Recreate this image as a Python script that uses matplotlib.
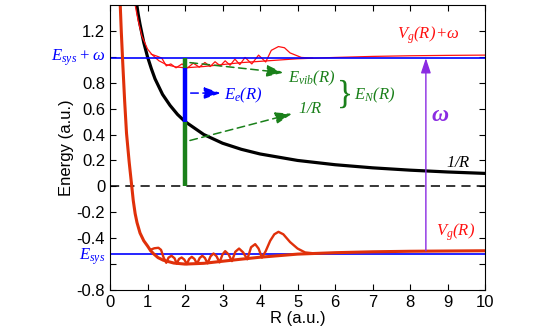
import matplotlib
matplotlib.use("Agg")
from matplotlib import pyplot as plt

plt.rcParams['font.family'] = ['Liberation Sans', 'DejaVu Sans']
plt.rcParams['mathtext.fontset'] = 'custom'
plt.rcParams['mathtext.it'] = 'Liberation Serif:italic'
plt.rcParams['mathtext.rm'] = 'Liberation Serif:italic'
plt.rcParams['mathtext.bf'] = 'Liberation Serif:bold:italic'

# values (R in a.u., energy in a.u.)
# ground potential Vg(R), smooth part
r_vg = [0.27, 0.30, 0.34, 0.39, 0.44, 0.51, 0.58, 0.62, 0.67, 0.72, 0.80, 0.90, 1.00, 1.08, 1.16,
        1.28, 1.42, 1.70, 2.00, 2.50, 3.00, 3.50, 4.00, 4.50, 5.00, 6.00, 7.00, 8.00, 9.00, 10.0]
e_vg = [1.42, 1.20, 0.95, 0.66, 0.41, 0.19, 0.00, -0.11, -0.21, -0.28, -0.36, -0.42, -0.46, -0.495,
        -0.52, -0.55, -0.57, -0.592, -0.60, -0.594, -0.578, -0.562, -0.547, -0.535, -0.523, -0.512,
        -0.505, -0.501, -0.499, -0.497]
# ground potential, oscillating part
r_vg_osc = [1.07, 1.18, 1.29, 1.36, 1.43, 1.50,
            1.56, 1.64, 1.72, 1.78,
            1.84, 1.91, 1.98, 2.05,
            2.11, 2.18, 2.25, 2.32,
            2.39, 2.46, 2.53, 2.60,
            2.68, 2.76, 2.84, 2.92,
            3.00, 3.07, 3.16, 3.25,
            3.34, 3.44, 3.55, 3.66,
            3.76, 3.87, 3.96, 4.05,
            4.15, 4.27, 4.38, 4.49, 4.62, 4.80, 5.00, 5.20, 5.40]
e_vg_osc = [-0.49, -0.478, -0.474, -0.49, -0.55, -0.59,
            -0.55, -0.536, -0.555, -0.597,
            -0.56, -0.549, -0.565, -0.60,
            -0.56, -0.544, -0.56, -0.598,
            -0.553, -0.536, -0.553, -0.594,
            -0.54, -0.518, -0.54, -0.587,
            -0.525, -0.50, -0.525, -0.577,
            -0.505, -0.48, -0.51, -0.563,
            -0.47, -0.446, -0.48, -0.55,
            -0.50, -0.42, -0.37, -0.351, -0.37, -0.43, -0.48, -0.51, -0.516]
# Vg(R)+w, smooth part
r_vw = [0.67, 0.75, 0.85, 1.00, 1.11, 1.30, 1.50, 1.75, 2.00, 2.50, 3.00, 3.50, 4.00, 4.50,
        5.00, 6.00, 7.00, 8.00, 9.00, 10.0]
e_vw = [1.40, 1.28, 1.16, 1.06, 1.02, 0.97, 0.94, 0.922, 0.915, 0.925, 0.94, 0.955, 0.965, 0.975,
        0.985, 0.995, 1.003, 1.008, 1.011, 1.013]
# Vg(R)+w, oscillating part
r_vw_osc = [1.10, 1.25, 1.38, 1.50, 1.62, 1.76, 1.92, 2.07, 2.22, 2.38, 2.53, 2.67, 2.80, 2.94,
            3.07, 3.20, 3.33, 3.46, 3.60, 3.78, 3.96, 4.15, 4.30, 4.49, 4.65, 4.80, 5.10, 5.40]
e_vw_osc = [1.02, 1.005, 0.99, 0.93, 0.945, 0.915, 0.945, 0.915, 0.951, 0.92, 0.956, 0.925, 0.962,
            0.93, 0.969, 0.935, 0.982, 0.94, 0.995, 0.945, 1.013, 0.96, 1.05, 1.079, 1.07, 1.03,
            0.995, 0.99]
# Coulomb repulsion 1/R
r_inv = [0.70, 0.75, 0.80, 0.85, 0.90, 1.0, 1.1, 1.2, 1.4, 1.6, 1.8, 2.0, 2.5, 3.0, 3.5, 4.0, 5.0,
         6.0, 7.0, 8.0, 9.0, 10.0]
e_inv = [1.43, 1.33, 1.25, 1.18, 1.11, 1.0, 0.91, 0.83, 0.71, 0.625, 0.555, 0.50, 0.40, 0.333,
         0.286, 0.25, 0.20, 0.167, 0.143, 0.125, 0.111, 0.10]

e_sys = -0.525
e_sys_w = 0.99
r_bar = 2.0
bar_levels = [0.0, 0.50, 0.915, 0.99]   # 1/R | E_e | E_vib
r_omega = 8.42
vg_at_omega = -0.497

red = '#e0300a'
green = '#1a801a'
blue = '#0000ff'
purple = '#8a2be2'

fig = plt.figure(figsize=(5.57, 3.32), dpi=100)
ax = fig.add_axes([0.1975, 0.1265, 0.6735, 0.8585])

ax.axhline(0, color='black', lw=1.1, ls=(0, (6, 4)))
ax.plot(r_inv, e_inv, color='black', lw=2.3)
ax.plot(r_vw, e_vw, color='#ff1010', lw=0.9)
ax.plot(r_vw_osc, e_vw_osc, color='#ff1010', lw=0.9)
ax.axhline(e_sys_w, color=blue, lw=1.2)
ax.axhline(e_sys, color=blue, lw=1.2)
ax.plot(r_vg, e_vg, color=red, lw=2.2)
ax.plot(r_vg_osc, e_vg_osc, color=red, lw=1.7)

# stacked bar at R=2
ax.plot([r_bar, r_bar], bar_levels[0:2], color=green, lw=3.2, solid_capstyle='butt')
ax.plot([r_bar, r_bar], bar_levels[1:3], color=blue, lw=3.2, solid_capstyle='butt')
ax.plot([r_bar, r_bar], bar_levels[2:4], color=green, lw=3.2, solid_capstyle='butt')

# photon arrow
ax.annotate('', xy=(r_omega, e_sys_w), xytext=(r_omega, vg_at_omega),
            arrowprops=dict(arrowstyle='-|>,head_length=0.9,head_width=0.3', color=purple, lw=1.0,
                            shrinkA=0, shrinkB=0))
ax.text(8.55, 0.55, r'$\mathbf{\omega}$', color=purple, fontsize=17, ha='left', va='center')

# pointer arrows
def dash_arrow(p0, p1, col):
    ax.annotate('', xy=p1, xytext=p0,
                arrowprops=dict(arrowstyle='-|>,head_length=1.0,head_width=0.35', color=col, lw=1.1,
                                ls=(0, (5, 3)), shrinkA=0, shrinkB=0))

dash_arrow((2.15, 0.72), (2.95, 0.72), blue)
dash_arrow((2.13, 0.955), (4.62, 0.877), green)
dash_arrow((2.13, 0.354), (4.85, 0.56), green)

ax.text(3.05, 0.70, r'$E_e(R)$', color=blue, fontsize=12, va='center')
ax.text(4.75, 0.83, r'$E_{vib}(R)$', color=green, fontsize=12, va='center')
ax.text(5.0, 0.60, r'$1/R$', color=green, fontsize=12, va='center')
ax.text(6.05, 0.71, '}', color=green, fontsize=24, va='center', family='Liberation Serif')
ax.text(6.5, 0.70, r'$E_N(R)$', color=green, fontsize=12, va='center')

ax.text(7.65, 1.17, r'$V_g(R)\!+\!\omega$', color='#ff1010', fontsize=12, va='center')
ax.text(8.7, -0.35, r'$V_g(R)$', color='#ff1010', fontsize=12, va='center')
ax.text(8.95, 0.185, r'$1/R$', color='black', fontsize=12, va='center')

# level labels on the left
trans = ax.get_yaxis_transform()
ax.text(-0.012, e_sys_w, r'$E_{sys}+\omega$', color=blue, fontsize=12, ha='right', va='center',
        transform=trans)
ax.text(-0.012, e_sys - 0.02, r'$E_{sys}$', color=blue, fontsize=12, ha='right', va='center',
        transform=trans)

ax.set_xlim(0, 10)
ax.set_ylim(-0.8, 1.4)
ax.set_xticks(range(0, 11))
yt = [-0.8, -0.6, -0.4, -0.2, 0, 0.2, 0.4, 0.6, 0.8, 1.0, 1.2]
ax.set_yticks(yt)
ax.set_yticklabels(['-0.8', '', '-0.4', '-0.2', '0', '0.2', '0.4', '0.6', '0.8', '', '1.2'])
ax.tick_params(direction='in', top=True, right=True, labelsize=12, length=4)
ax.set_xlabel('R (a.u.)', fontsize=12, labelpad=1)
ax.set_ylabel('Energy (a.u.)', fontsize=12, labelpad=2)

fig.savefig('out.png', dpi=100)
